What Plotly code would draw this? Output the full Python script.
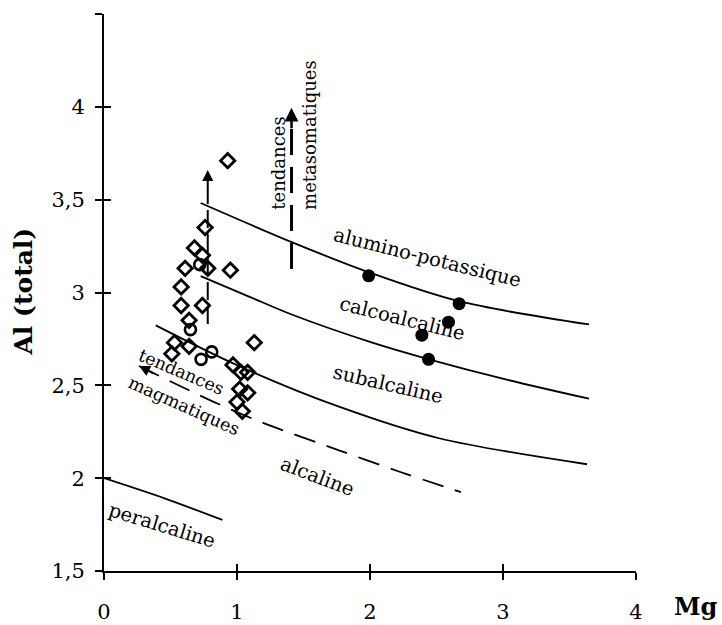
import plotly.graph_objects as go

# --- Biotite compositions: Mg vs Al(total) ---
# open diamonds
dia_mg = [0.93, 0.76, 0.68, 0.74, 0.78, 0.61, 0.95, 0.58, 0.58, 0.74, 0.64,
          0.53, 0.64, 0.51, 1.13, 0.97, 1.03, 1.08, 1.02, 1.08, 1.00, 1.04]
dia_al = [3.71, 3.35, 3.24, 3.20, 3.13, 3.13, 3.12, 3.03, 2.93, 2.93, 2.85,
          2.73, 2.71, 2.67, 2.73, 2.61, 2.57, 2.57, 2.48, 2.46, 2.41, 2.36]
# open circles
circ_mg = [0.72, 0.65, 0.81, 0.73]
circ_al = [3.15, 2.80, 2.68, 2.64]
# filled circles
dot_mg = [1.99, 2.67, 2.59, 2.39, 2.44]
dot_al = [3.09, 2.94, 2.84, 2.77, 2.64]

# --- Field boundaries ---
alk_pot_mg = [0.727, 1.416, 1.987, 2.669, 3.647]
alk_pot_al = [3.482, 3.270, 3.110, 2.953, 2.828]
calc_mg = [0.727, 1.090, 1.416, 2.017, 2.444, 3.020, 3.647]
calc_al = [3.088, 2.978, 2.880, 2.730, 2.640, 2.532, 2.428]
subalc_mg = [0.389, 1.015, 1.767, 2.519, 3.632]
subalc_al = [2.823, 2.604, 2.385, 2.215, 2.075]
alc_mg = [0.263, 0.812, 1.188, 1.767, 2.200, 2.684]
alc_al = [2.604, 2.415, 2.300, 2.150, 2.040, 1.925]
peralc_mg = [0.0, 0.46, 0.89]
peralc_al = [2.0, 1.89, 1.775]

# --- Trend arrows ---
magm_vert_mg = [0.78, 0.78]
magm_vert_al = [2.83, 3.60]
meta_mg = [1.41, 1.41]
meta_al = [3.127, 3.92]

# --- Axis ticks ---
x_ticks = [0, 1, 2, 3, 4]
x_labels = ["0", "1", "2", "3", "4"]
y_ticks = [1.5, 2, 2.5, 3, 3.5, 4, 4.5]
y_labels = ["1,5", "2", "2,5", "3", "3,5", "4", ""]

SERIF = "DejaVu Serif"
BLACK = "black"

fig = go.Figure()

def curve(xs, ys, dash="solid", width=1.8):
    fig.add_trace(go.Scatter(x=xs, y=ys, mode="lines",
                             line=dict(color=BLACK, width=width, dash=dash,
                                       shape="spline", smoothing=0.9),
                             hoverinfo="skip", showlegend=False))

curve(alk_pot_mg, alk_pot_al)
curve(calc_mg, calc_al)
curve(subalc_mg, subalc_al)
curve(alc_mg, alc_al, dash="22px,12px")
curve(peralc_mg, peralc_al)
curve(magm_vert_mg, magm_vert_al, dash="18px,6px", width=2)
curve(meta_mg, meta_al, dash="26px,12px", width=3)

fig.add_trace(go.Scatter(x=dia_mg, y=dia_al, mode="markers",
                         marker=dict(symbol="diamond-open", size=11, color=BLACK,
                                     line=dict(width=2.8, color=BLACK)),
                         showlegend=False))
fig.add_trace(go.Scatter(x=circ_mg, y=circ_al, mode="markers",
                         marker=dict(symbol="circle-open", size=11, color=BLACK,
                                     line=dict(width=2.6, color=BLACK)),
                         showlegend=False))
fig.add_trace(go.Scatter(x=dot_mg, y=dot_al, mode="markers",
                         marker=dict(symbol="circle", size=13, color=BLACK),
                         showlegend=False))

# invisible trace carrying the overlay axes (inner half of the crossing ticks)
fig.add_trace(go.Scatter(x=[0], y=[1.5], xaxis="x2", yaxis="y2", mode="markers",
                         marker=dict(opacity=0), hoverinfo="skip", showlegend=False))

# arrowheads
def arrowhead(x, y, ax, ay, width):
    fig.add_annotation(x=x, y=y, ax=ax, ay=ay, text="", showarrow=True,
                       arrowhead=2, arrowsize=1.1, arrowwidth=width,
                       arrowcolor=BLACK, standoff=0)

arrowhead(magm_vert_mg[1], 3.66, 0, 18, 2)
arrowhead(meta_mg[1], 3.995, 0, 22, 2.5)
arrowhead(alc_mg[0], alc_al[0], 16, 8, 2)

# labels
def label(text, x, y, angle, size=19.5):
    fig.add_annotation(x=x, y=y, text=text, showarrow=False, textangle=angle,
                       xanchor="center", yanchor="middle",
                       font=dict(family=SERIF, size=size, color=BLACK))

label("alumino-potassique", 2.429, 3.186, 14)
label("calcoalcaline", 2.241, 2.858, 14)
label("subalcaline", 2.139, 2.505, 13)
label("alcaline", 1.602, 2.011, 21)
label("peralcaline", 0.436, 1.747, 17)
label("tendances", 0.583, 2.573, 23, 17.5)
label("magmatiques", 0.602, 2.387, 24, 17.5)
label("tendances", 1.316, 3.694, -90, 18)
label("metasomatiques", 1.549, 3.849, -90, 18)

# axis titles
fig.add_annotation(xref="paper", yref="paper", x=-0.152, y=0.502, text="<b>Al (total)</b>",
                   textangle=-90, showarrow=False, xanchor="center", yanchor="middle",
                   font=dict(family=SERIF, size=25, color=BLACK))
fig.add_annotation(xref="paper", yref="paper", x=1.113, y=-0.064, text="<b>Mg</b>",
                   showarrow=False, xanchor="center", yanchor="middle",
                   font=dict(family=SERIF, size=24, color=BLACK))

tickfont = dict(family=SERIF, size=21, color=BLACK)
common = dict(showgrid=False, zeroline=False, ticklen=7, tickwidth=2, tickcolor=BLACK,
              automargin=False)

fig.update_layout(
    width=722, height=625,
    margin=dict(l=104, r=86, t=14, b=54),
    paper_bgcolor="white", plot_bgcolor="white",
    showlegend=False,
    xaxis=dict(range=[0, 4], tickvals=x_ticks, ticktext=x_labels, ticks="outside",
               showline=True, linewidth=2, linecolor=BLACK, tickfont=tickfont,
               ticklabelstandoff=14, **common),
    yaxis=dict(range=[1.5, 4.5], tickvals=y_ticks, ticktext=y_labels, ticks="outside",
               showline=True, linewidth=2, linecolor=BLACK, tickfont=tickfont,
               ticklabelstandoff=6, **common),
    xaxis2=dict(range=[0, 4], tickvals=x_ticks, ticks="inside", overlaying="x",
                anchor="y2", side="bottom", showticklabels=False, showline=False, **common),
    yaxis2=dict(range=[1.5, 4.5], tickvals=y_ticks, ticks="inside", overlaying="y",
                anchor="x2", side="left", showticklabels=False, showline=False, **common),
)

fig.write_html("out.html")
